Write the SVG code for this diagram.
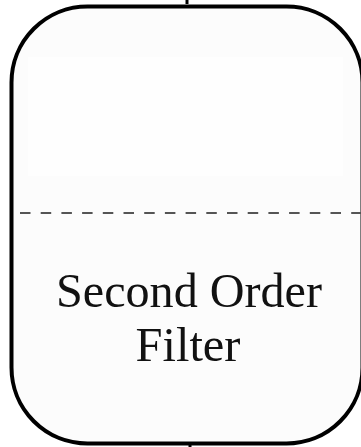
<svg xmlns="http://www.w3.org/2000/svg" width="361" height="447" viewBox="0 0 361 447">
  <style>
    .box { fill: #fcfcfc; stroke: #000; stroke-width: 4; }
    .inner { fill: #fefefe; stroke: none; }
    .sep { stroke: #555; stroke-width: 2; stroke-dasharray: 10.5 10.2; fill: none; }
    .lbl { font-family: "Liberation Serif", "DejaVu Serif", serif; font-size: 48px; fill: #111; text-anchor: middle; }
    .wire { stroke: #000; stroke-width: 3; fill: none; }
  </style>
  <g id="connectors">
    <line class="wire" x1="187" y1="0" x2="187" y2="4"/>
    <line class="wire" x1="190" y1="443" x2="190" y2="447"/>
  </g>
  <g id="filter">
    <rect class="box" x="11.5" y="6.5" width="351" height="437" rx="76" ry="76"/>
    <rect class="inner" x="28" y="57" width="315" height="119"/>
    <line class="sep" x1="20" y1="213" x2="361" y2="213"/>
    <text class="lbl" x="189" y="307" textLength="266" lengthAdjust="spacingAndGlyphs">Second Order</text>
    <text class="lbl" x="188" y="361" textLength="105" lengthAdjust="spacingAndGlyphs">Filter</text>
  </g>
</svg>
